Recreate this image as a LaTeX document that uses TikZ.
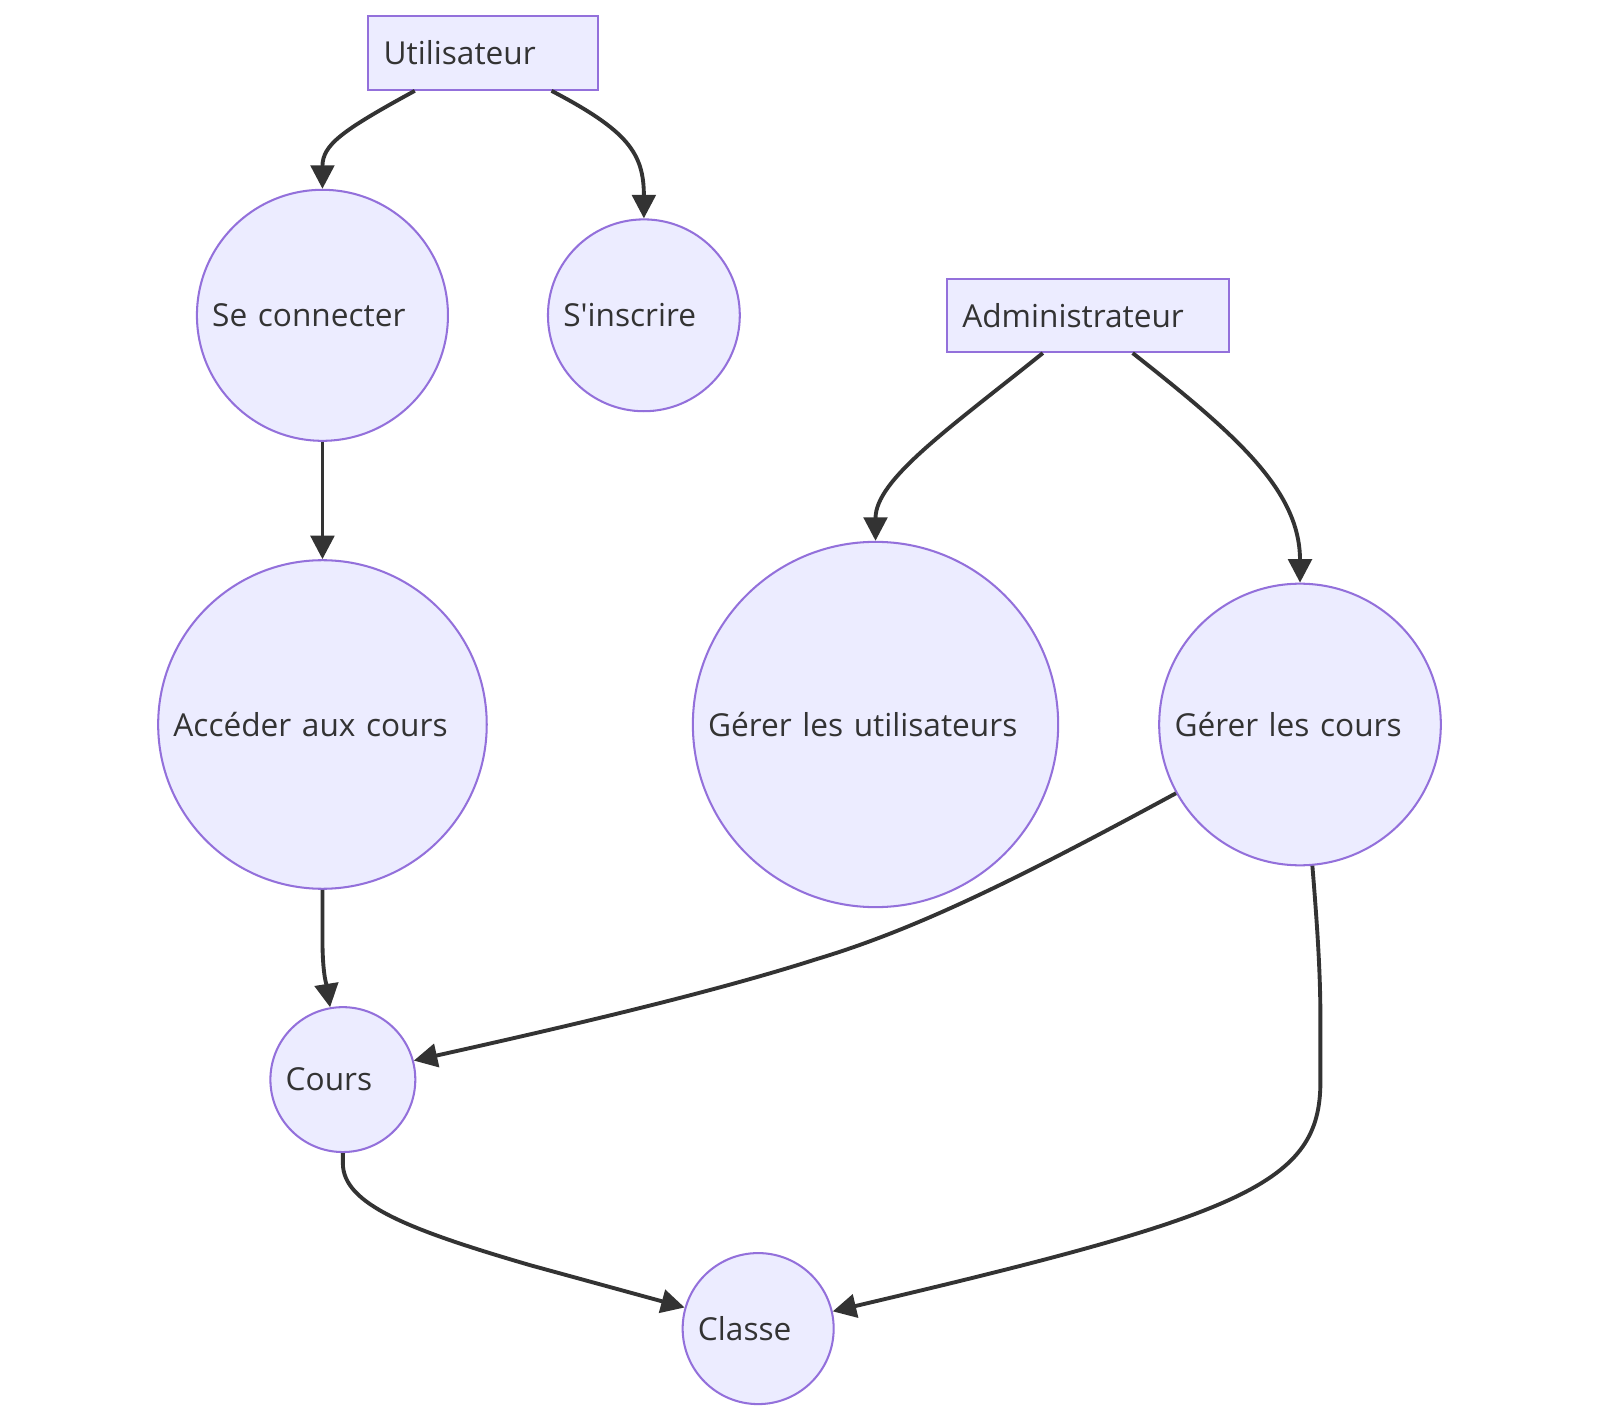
\documentclass[tikz,border=0pt]{standalone}
\usepackage{fontspec}
\setmainfont{Open Sans}
\usetikzlibrary{arrows.meta,calc}
\definecolor{nodefill}{HTML}{ECECFF}
\definecolor{nodeline}{HTML}{9370DB}
\definecolor{edgecol}{HTML}{333333}
\begin{document}
\begin{tikzpicture}[x=1pt,y=-1pt,
  box/.style={draw=nodeline,fill=nodefill,line width=2pt,rectangle,inner xsep=15pt,inner ysep=0pt,minimum height=72pt,align=left,text=edgecol,font=\fontsize{31}{38}\selectfont},
  circ/.style={draw=nodeline,fill=nodefill,line width=2pt,circle,inner sep=0pt,align=left,text=edgecol,font=\fontsize{31}{38}\selectfont},
  edge/.style={draw=edgecol,line width=3.8pt,-{Triangle[length=23pt,width=23pt]}}]
\fill[white] (0,0) rectangle (1568,1392);
\useasboundingbox (0,0) rectangle (1568,1392);
\node[box,text width=195pt] (u) at (473.5,52) {Utilisateur};
\node[box,text width=246pt] (a) at (1066,309) {Administrateur};
\node[circ,minimum size=246pt,text width=216pt] (sc) at (316,309) {Se connecter};
\node[circ,minimum size=188pt,text width=158pt] (si) at (631,309) {S\textquotesingle inscrire};
\node[circ,minimum size=322pt,text width=292pt] (ac) at (316,710) {Accéder aux cours};
\node[circ,minimum size=358pt,text width=328pt] (gu) at (858,710) {Gérer les utilisateurs};
\node[circ,minimum size=276pt,text width=246pt] (gc) at (1274,710) {Gérer les cours};
\node[circ,minimum size=142pt,text width=112pt] (co) at (336,1058) {Cours};
\node[circ,minimum size=148pt,text width=118pt] (cl) at (743,1302) {Classe};
\draw[edge] ($(u.south)+(-67,0)$) .. controls (335,128) and (316,142) .. (sc.north);
\draw[edge] ($(u.south)+(67,0)$) .. controls (615,128) and (631,150) .. (si.north);
\draw[edge] (sc.south) -- (ac.north);
\draw[edge] ($(a.south)+(-44,0)$) .. controls (930,420) and (858,470) .. (gu.north);
\draw[edge] ($(a.south)+(44,0)$) .. controls (1210,425) and (1274,480) .. (gc.north);
\draw[edge] (ac.south) -- (316,920) .. controls (316,955) and (320,965) .. (co.100);
\draw[edge] (gc.209) .. controls (1000,860) and (900,910) .. (800,940) .. controls (700,972) and (560,1005) .. (co.15);
\draw[edge] (co.south) -- (336,1140) .. controls (336,1180) and (400,1205) .. (520,1240) -- (cl.164);
\draw[edge] (gc.-85) .. controls (1292,920) and (1294,960) .. (1294,1000) -- (1294,1060) .. controls (1294,1160) and (1220,1190) .. (cl.13);
\end{tikzpicture}
\end{document}
